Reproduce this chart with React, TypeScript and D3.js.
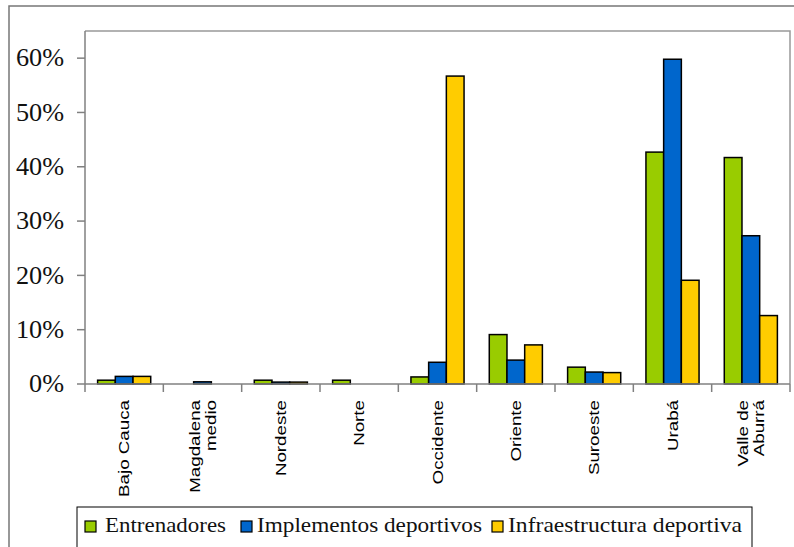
import React from "react";
import * as d3 from "d3";

const categories: string[][] = [
  ["Bajo Cauca"],
  ["Magdalena", "medio"],
  ["Nordeste"],
  ["Norte"],
  ["Occidente"],
  ["Oriente"],
  ["Suroeste"],
  ["Urabá"],
  ["Valle de", "Aburrá"],
];
const seriesNames = ["Entrenadores", "Implementos deportivos", "Infraestructura deportiva"];
const seriesColors = ["#99CC00", "#0066CC", "#FFCC00"];
const entrenadores = [0.7, 0, 0.7, 0.7, 1.3, 9.1, 3.1, 42.7, 41.7];
const implementos = [1.4, 0.4, 0.35, 0, 4.0, 4.4, 2.2, 59.8, 27.3];
const infraestructura = [1.4, 0, 0.35, 0, 56.7, 7.2, 2.1, 19.1, 12.6];
const yTicks = [0, 10, 20, 30, 40, 50, 60];

const W = 794;
const H = 547;
const plot = { left: 85, right: 790, top: 31, bottom: 384 };

const SERIF = "Times New Roman";
const SANS = "Arial";

export default function App() {
  const seriesValues = [entrenadores, implementos, infraestructura];
  const catKeys = categories.map((c) => c.join(" "));
  const x0 = d3.scaleBand<string>().domain(catKeys).range([plot.left, plot.right]).padding(0);
  const bw = x0.bandwidth() * 0.226;
  const x1 = d3
    .scaleBand<string>()
    .domain(seriesNames)
    .range([-1.5 * bw, 1.5 * bw])
    .padding(0);
  const y = d3.scaleLinear().domain([0, 65]).range([plot.bottom, plot.top]);

  const legendItems = [
    { sq: 85, tx: 105, w: 121 },
    { sq: 241, tx: 257, w: 225 },
    { sq: 492, tx: 508, w: 234 },
  ];

  return (
    <svg
      width={W}
      height={H}
      style={{ position: "absolute", left: 0, top: 0, background: "#fff" }}
    >
      <rect x={0} y={0} width={W} height={H} fill="#fff" />
      <rect x={9} y={6} width={W + 10} height={H + 10} fill="none" stroke="#777" strokeWidth={1.5} />
      <path
        d={`M${plot.left},${plot.top}H${plot.right}V${plot.bottom}`}
        fill="none"
        stroke="#999"
        strokeWidth={1.5}
      />
      <line x1={plot.left} x2={plot.left} y1={plot.top} y2={plot.bottom} stroke="#808080" strokeWidth={1.5} />
      {yTicks.map((t) => (
        <g key={t}>
          <line x1={plot.left - 8} x2={plot.left} y1={y(t)} y2={y(t)} stroke="#808080" strokeWidth={1.5} />
          <text
            x={0}
            y={0}
            transform={`translate(64,${y(t) + 8.3}) scale(1.05,1)`}
            textAnchor="end"
            fontFamily={SERIF}
            fontSize={25}
            fill="#111"
          >
            {t + "%"}
          </text>
        </g>
      ))}
      {catKeys.map((c, ci) => {
        const cx = (x0(c) as number) + x0.bandwidth() / 2;
        return (
          <g key={c}>
            {seriesNames.map((s, si) => {
              const v = seriesValues[si][ci];
              if (v <= 0) return null;
              return (
                <rect
                  key={s}
                  x={cx + (x1(s) as number)}
                  y={y(v)}
                  width={x1.bandwidth()}
                  height={y(0) - y(v)}
                  fill={seriesColors[si]}
                  stroke="#000"
                  strokeWidth={1.5}
                />
              );
            })}
          </g>
        );
      })}
      <line x1={plot.left} x2={plot.right} y1={plot.bottom} y2={plot.bottom} stroke="#808080" strokeWidth={1.5} />
      {catKeys.map((c) => (
        <line
          key={"t" + c}
          x1={x0(c) as number}
          x2={x0(c) as number}
          y1={plot.bottom}
          y2={plot.bottom + 8}
          stroke="#808080"
          strokeWidth={1.5}
        />
      ))}
      <line x1={plot.right} x2={plot.right} y1={plot.bottom} y2={plot.bottom + 8} stroke="#808080" strokeWidth={1.5} />
      {categories.map((lines, ci) => {
        const cx = (x0(catKeys[ci]) as number) + x0.bandwidth() / 2;
        return lines.map((ln, li) => {
          const off = lines.length === 1 ? 0 : li === 0 ? -8 : 8;
          return (
            <text
              key={ci + "-" + li}
              transform={`translate(${cx + off + 5},${400}) rotate(-90) scale(1.34,1)`}
              textAnchor="end"
              fontFamily={SANS}
              fontSize={14}
              fill="#000"
            >
              {ln}
            </text>
          );
        });
      })}
      <rect x={77} y={507} width={675} height={60} fill="#fff" stroke="#000" strokeWidth={1} />
      {seriesNames.map((s, si) => (
        <g key={"l" + s}>
          <rect
            x={legendItems[si].sq}
            y={521}
            width={11}
            height={11}
            fill={seriesColors[si]}
            stroke="#000"
            strokeWidth={1.2}
          />
          <text
            x={legendItems[si].tx}
            y={532}
            fontFamily={SERIF}
            fontSize={21}
            textLength={legendItems[si].w}
            lengthAdjust="spacingAndGlyphs"
            fill="#111"
          >
            {s}
          </text>
        </g>
      ))}
    </svg>
  );
}
